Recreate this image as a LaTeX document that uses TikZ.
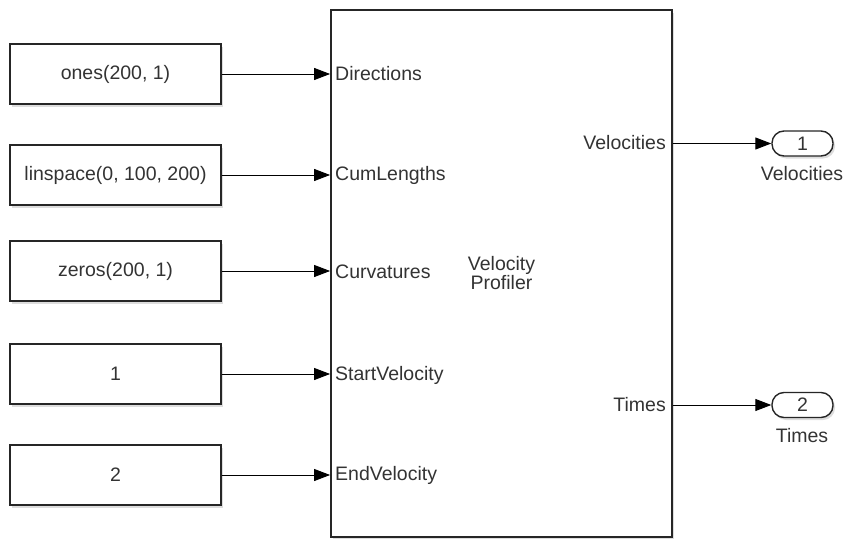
\documentclass[tikz,border=0pt]{standalone}
\usepackage{fontspec}
\setmainfont{Liberation Sans}
\usetikzlibrary{arrows.meta,shadows}
\begin{document}
\begin{tikzpicture}[x=1pt,y=-1pt,
  every node/.style={font=\fontsize{19.5}{22}\selectfont, text=black!80},
  shad/.style={drop shadow={shadow xshift=2pt,shadow yshift=-2.5pt,opacity=0.22,fill=black!60}},
  srcblock/.style={draw=black!85,line width=1.4pt,fill=white,minimum width=211pt,minimum height=60pt,inner sep=0pt,shad},
  mainblock/.style={draw=black!85,line width=1.8pt,fill=white,minimum width=341pt,minimum height=527pt,inner sep=0pt,shad,align=center},
  outblock/.style={draw=black!85,line width=1.4pt,fill=white,rounded corners=12pt,minimum width=61pt,minimum height=25pt,inner sep=0pt,shad},
  portlbl/.style={inner sep=0pt},
  conn/.style={line width=1pt,draw=black,-{Triangle[length=16pt,width=12pt]}}
]
\useasboundingbox (0,0) rectangle (843,538);
\node[mainblock] (vp) at (501.5,273.5) {Velocity\\[-3pt]Profiler};

\node[srcblock] (s1) at (115.5,74) {ones(200, 1)};
\node[srcblock] (s2) at (115.5,175) {linspace(0, 100, 200)};
\node[srcblock] (s3) at (115.5,271) {zeros(200, 1)};
\node[srcblock] (s4) at (115.5,374) {1};
\node[srcblock] (s5) at (115.5,475) {2};

\node[portlbl,anchor=west] (pi1) at (335,74) {Directions};
\node[portlbl,anchor=west] (pi2) at (335,175) {CumLengths};
\node[portlbl,anchor=west] (pi3) at (335,272) {Curvatures};
\node[portlbl,anchor=west] (pi4) at (335,375) {StartVelocity};
\node[portlbl,anchor=west] (pi5) at (335,475) {EndVelocity};

\node[portlbl,anchor=east] (po1) at (666,143) {Velocities};
\node[portlbl,anchor=east] (po2) at (666,405) {Times};

\foreach \i in {1,...,5} {
  \draw[conn] (s\i.east) -- (vp.west |- s\i.east);
}

\node[outblock] (o1) at (802.5,143.5) {1};
\node[outblock] (o2) at (802.5,405) {2};
\node[portlbl] (ol1) at (802,174) {Velocities};
\node[portlbl] (ol2) at (802,436) {Times};

\draw[conn] (vp.east |- o1.west) -- (o1.west);
\draw[conn] (vp.east |- o2.west) -- (o2.west);
\end{tikzpicture}
\end{document}
